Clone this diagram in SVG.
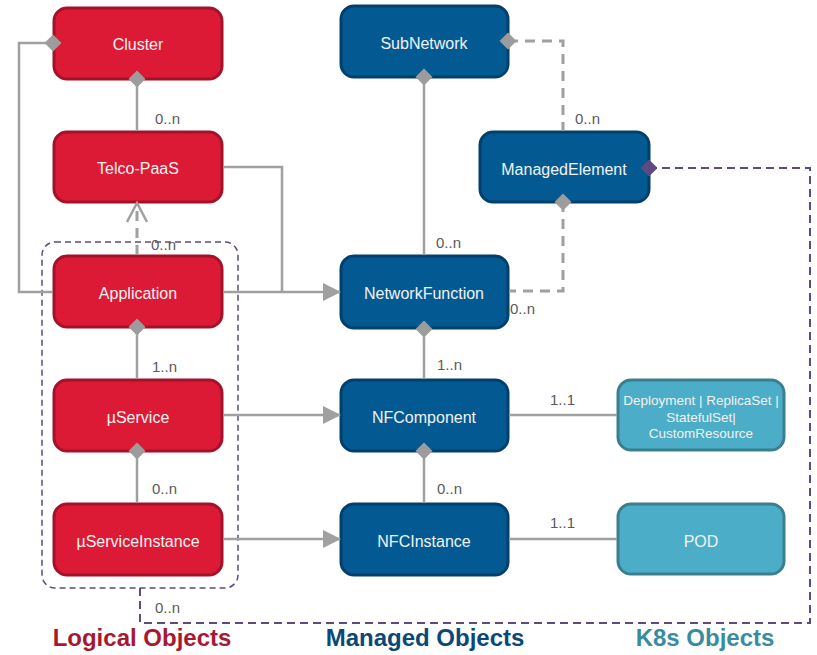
<svg xmlns="http://www.w3.org/2000/svg" width="817" height="655" viewBox="0 0 817 655">
  <style>
    .logical rect { fill: #DC1A35; stroke: #A3122A; stroke-width: 3; }
    .managed rect { fill: #035A93; stroke: #02406C; stroke-width: 3; }
    .k8s rect { fill: #4BADC7; stroke: #3B7F8F; stroke-width: 3; }
    .node text { font-family: "Liberation Sans", Arial, sans-serif; font-size: 16px; fill: #F2F2F2; text-anchor: middle; dominant-baseline: central; }
    .node text.small { font-size: 13.5px; }
    .line { fill: none; stroke: #A0A0A0; stroke-width: 2.5; }
    .dash { fill: none; stroke: #A0A0A0; stroke-width: 3; stroke-dasharray: 10 7; }
    .purple { fill: none; stroke: #5E4A80; stroke-width: 2; stroke-dasharray: 8 5; }
    .group { fill: none; stroke: #5E4A80; stroke-width: 1.5; stroke-dasharray: 6 4; }
    .dia { fill: #9C9C9C; }
    .dia-p { fill: #5E4A80; }
    .mult { font-family: "Liberation Sans", Arial, sans-serif; font-size: 15px; fill: #5A5A5A; }
    .title { font-family: "Liberation Sans", Arial, sans-serif; font-size: 24px; font-weight: bold; text-anchor: middle; }
  </style>
  <defs>
    <marker id="tri" viewBox="0 0 18 18" refX="17" refY="9" markerWidth="18" markerHeight="18" markerUnits="userSpaceOnUse" orient="auto">
      <path d="M0,0 L18,9 L0,18 Z" fill="#A0A0A0"/>
    </marker>
    <marker id="vee" viewBox="0 0 22 22" refX="20" refY="11" markerWidth="22" markerHeight="22" markerUnits="userSpaceOnUse" orient="auto">
      <path d="M1,1 L20,11 L1,21" fill="none" stroke="#A0A0A0" stroke-width="2.5"/>
    </marker>
    <path id="d" d="M-8.5,0 L0,-8.5 L8.5,0 L0,8.5 Z"/>
  </defs>

  <!-- grouping frame around application-level objects -->
  <rect class="group" x="42" y="242" width="196" height="346" rx="13"/>

  <!-- logical objects -->
  <g id="cluster" class="node logical"><rect x="54" y="8" width="168" height="71" rx="13"/><text x="138" y="44">Cluster</text></g>
  <g id="telco-paas" class="node logical"><rect x="54" y="132" width="168" height="70" rx="13"/><text x="138" y="168">Telco-PaaS</text></g>
  <g id="application" class="node logical"><rect x="54" y="256" width="168" height="71" rx="13"/><text x="138" y="293">Application</text></g>
  <g id="microservice" class="node logical"><rect x="54" y="380" width="168" height="71" rx="13"/><text x="138" y="417">µService</text></g>
  <g id="microservice-instance" class="node logical"><rect x="54" y="504" width="168" height="71" rx="13"/><text x="138" y="541">µServiceInstance</text></g>

  <!-- managed objects -->
  <g id="subnetwork" class="node managed"><rect x="341" y="6" width="167" height="71" rx="13"/><text x="424" y="43">SubNetwork</text></g>
  <g id="managed-element" class="node managed"><rect x="480" y="132" width="169" height="70" rx="13"/><text x="564" y="169">ManagedElement</text></g>
  <g id="network-function" class="node managed"><rect x="341" y="256" width="167" height="72" rx="13"/><text x="424" y="293">NetworkFunction</text></g>
  <g id="nf-component" class="node managed"><rect x="341" y="380" width="167" height="71" rx="13"/><text x="424" y="417">NFComponent</text></g>
  <g id="nfc-instance" class="node managed"><rect x="341" y="504" width="167" height="71" rx="13"/><text x="424" y="541">NFCInstance</text></g>

  <!-- k8s objects -->
  <g id="workload" class="node k8s"><rect x="618" y="380" width="166" height="70" rx="13"/>
    <text class="small" x="701" y="400">Deployment | ReplicaSet |</text>
    <text class="small" x="701" y="417">StatefulSet|</text>
    <text class="small" x="701" y="433">CustomResource</text>
  </g>
  <g id="pod" class="node k8s"><rect x="618" y="504" width="166" height="70" rx="13"/><text x="701" y="541">POD</text></g>

  <g id="connectors">
    <!-- logical hierarchy -->
    <polyline class="line" points="53,43 19,43 19,292 53,292"/>
    <line class="line" x1="137" y1="79" x2="137" y2="131"/>
    <line class="dash" x1="137" y1="255" x2="137" y2="203" marker-end="url(#vee)"/>
    <line class="line" x1="137" y1="327" x2="137" y2="379"/>
    <line class="line" x1="137" y1="451" x2="137" y2="503"/>
    <!-- logical to managed -->
    <polyline class="line" points="223,167 282,167 282,292"/>
    <line class="line" x1="223" y1="292" x2="340" y2="292" marker-end="url(#tri)"/>
    <line class="line" x1="223" y1="415" x2="340" y2="415" marker-end="url(#tri)"/>
    <line class="line" x1="223" y1="539" x2="340" y2="539" marker-end="url(#tri)"/>
    <!-- managed hierarchy -->
    <line class="line" x1="424" y1="77" x2="424" y2="255"/>
    <line class="line" x1="424" y1="329" x2="424" y2="379"/>
    <line class="line" x1="424" y1="451" x2="424" y2="503"/>
    <polyline class="dash" points="508,41 563,41 563,131"/>
    <polyline class="dash" points="563,202 563,291 509,291"/>
    <!-- managed to k8s -->
    <line class="line" x1="509" y1="415" x2="617" y2="415"/>
    <line class="line" x1="509" y1="539" x2="617" y2="539"/>
    <!-- ManagedElement to application group -->
    <polyline class="purple" points="649,168 810,168 810,623 140,623 140,588"/>

    <!-- aggregation diamonds -->
    <use href="#d" class="dia" x="53" y="43"/>
    <use href="#d" class="dia" x="137" y="79"/>
    <use href="#d" class="dia" x="137" y="327"/>
    <use href="#d" class="dia" x="137" y="451"/>
    <use href="#d" class="dia" x="424" y="77"/>
    <use href="#d" class="dia" x="508" y="41"/>
    <use href="#d" class="dia" x="563" y="202"/>
    <use href="#d" class="dia" x="424" y="329"/>
    <use href="#d" class="dia" x="424" y="451"/>
    <use href="#d" class="dia-p" x="649" y="168"/>

    <!-- multiplicities -->
    <text class="mult" x="155" y="124">0..n</text>
    <text class="mult" x="151" y="250">0..n</text>
    <text class="mult" x="152" y="372">1..n</text>
    <text class="mult" x="152" y="494">0..n</text>
    <text class="mult" x="436" y="248">0..n</text>
    <text class="mult" x="575" y="124">0..n</text>
    <text class="mult" x="510" y="314">0..n</text>
    <text class="mult" x="437" y="370">1..n</text>
    <text class="mult" x="437" y="494">0..n</text>
    <text class="mult" x="550" y="405">1..1</text>
    <text class="mult" x="550" y="528">1..1</text>
    <text class="mult" x="155" y="613">0..n</text>
  </g>

  <!-- column titles -->
  <text class="title" x="142" y="646" fill="#A81830">Logical Objects</text>
  <text class="title" x="425" y="646" fill="#0B4877">Managed Objects</text>
  <text class="title" x="705" y="646" fill="#3A8B9D">K8s Objects</text>
</svg>
